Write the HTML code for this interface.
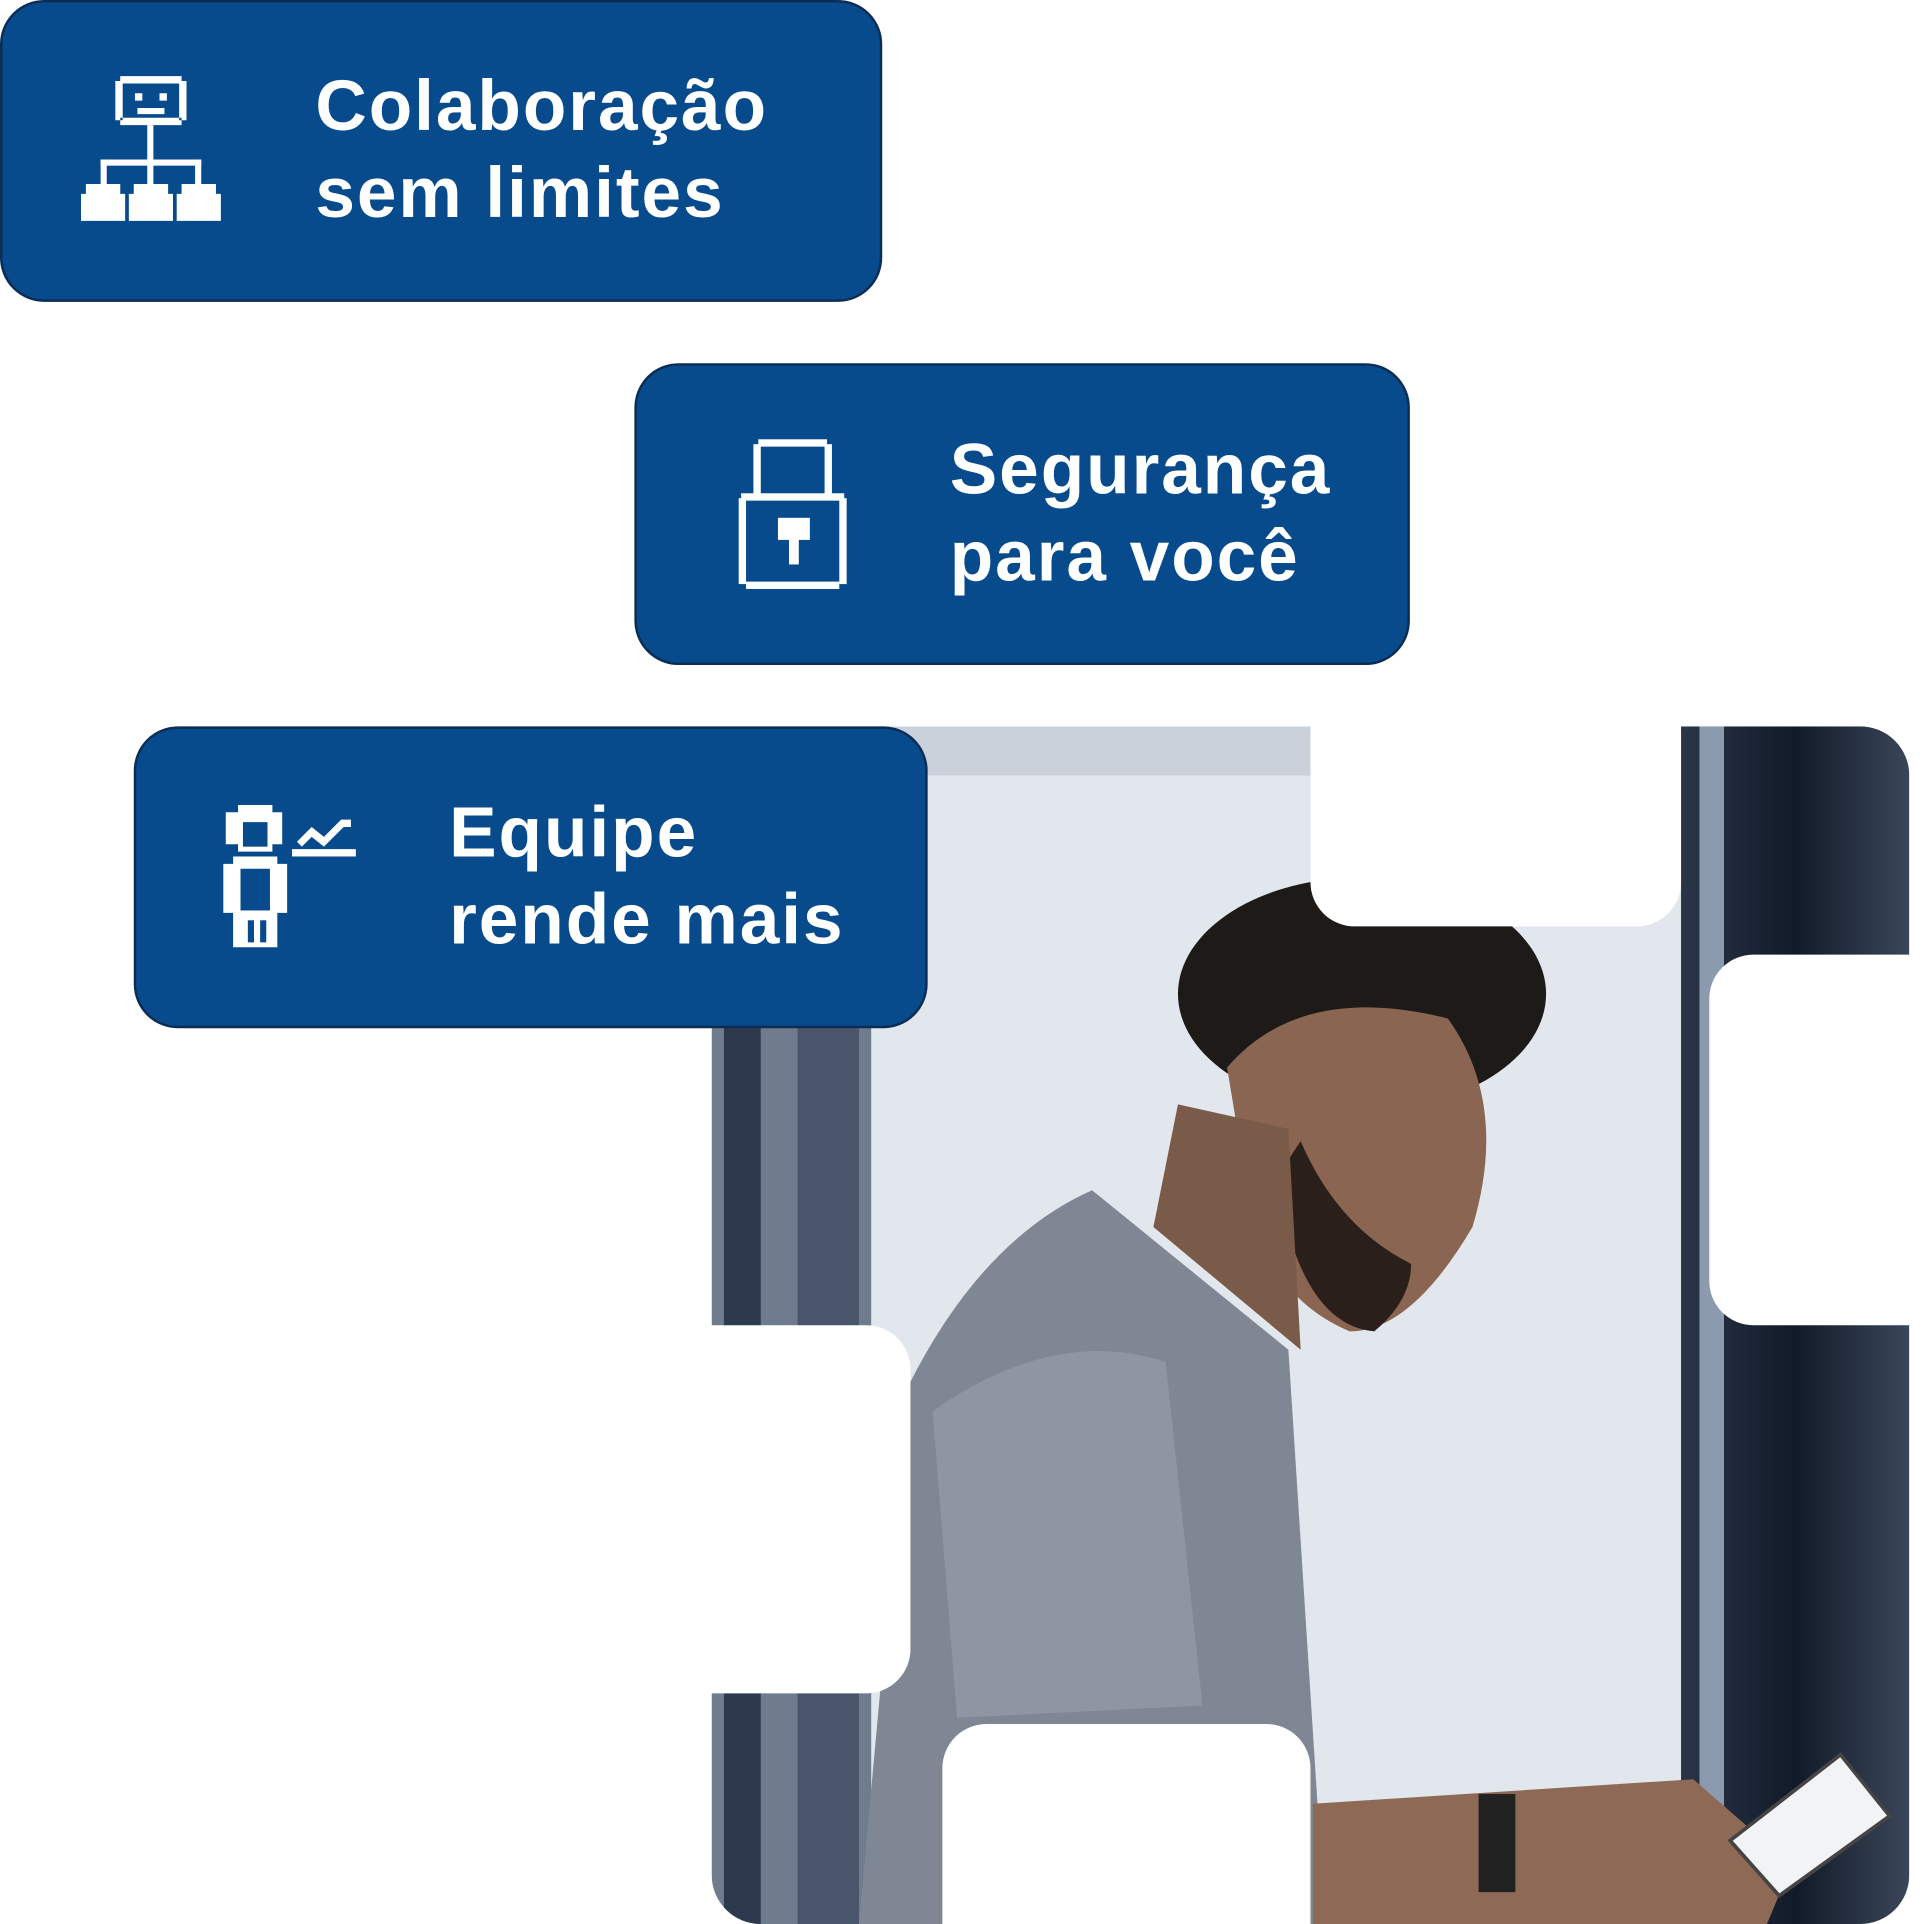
<!DOCTYPE html>
<html><head><meta charset="utf-8"><style>
html,body{margin:0;padding:0;background:#fff;}
body{width:1924px;height:1924px;overflow:hidden;position:relative;}
#s{position:absolute;left:0;top:0;width:1568px;height:1568px;transform:scale(1.22704);transform-origin:0 0;}
.card{position:absolute;background:#074b8c;border:2px solid #0b2d55;border-radius:36px;box-sizing:border-box;}
.t{position:absolute;color:#fff;font-family:"Liberation Sans",sans-serif;font-weight:bold;font-size:58px;line-height:71px;letter-spacing:1.6px;}
</style></head><body><div id="s">
<svg width="1568" height="1568" style="position:absolute;left:0;top:0">
<defs>
<clipPath id="c"><rect x="580" y="592" width="976" height="976" rx="40"/></clipPath>
<linearGradient id="rk" x1="0" x2="1"><stop offset="0" stop-color="#2a3548"/><stop offset="0.5" stop-color="#111a28"/><stop offset="1" stop-color="#3a4659"/></linearGradient>
</defs>
<g clip-path="url(#c)">
<rect x="580" y="592" width="976" height="976" fill="#e2e7ed"/>
<rect x="580" y="592" width="976" height="40" fill="#c9d1db"/>
<rect x="580" y="820" width="130" height="748" fill="#6f7c8e"/>
<rect x="590" y="820" width="30" height="748" fill="#2d3a4e"/>
<rect x="650" y="820" width="50" height="748" fill="#48556a"/>
<rect x="1370" y="592" width="186" height="976" fill="url(#rk)"/>
<rect x="1385" y="592" width="20" height="976" fill="#8c9ab0"/>
<!-- man -->
<ellipse cx="1110" cy="810" rx="150" ry="95" fill="#1e1a18"/>
<path d="M1000 870 Q1060 800 1180 830 Q1230 900 1200 1000 Q1150 1085 1100 1085 Q1040 1060 1020 990 Z" fill="#8a6552"/>
<path d="M1040 960 Q1060 1080 1120 1085 Q1150 1060 1150 1030 Q1090 1000 1060 930 Z" fill="#2a1f1a"/>
<path d="M960 900 L1050 920 L1060 1100 L940 1000 Z" fill="#7a5a48"/>
<path d="M740 1130 Q800 1010 890 970 L1050 1100 L1080 1568 L700 1568 Z" fill="#7e8793"/>
<path d="M760 1150 Q860 1080 950 1110 L980 1390 L780 1400 Z" fill="#8d96a2"/>
<path d="M1070 1470 L1380 1450 L1460 1520 L1440 1568 L1070 1568 Z" fill="#8e6a56"/>
<rect x="1205" y="1462" width="30" height="80" fill="#222"/>
<path d="M1410 1500 L1500 1430 L1540 1480 L1450 1545 Z" fill="#f1f3f5" stroke="#444" stroke-width="3"/>
</g>
<g fill="#fff">
<rect x="1068" y="560" width="302" height="195" rx="36"/>
<rect x="1393" y="778" width="200" height="302" rx="36"/>
<rect x="540" y="1080" width="202" height="300" rx="36"/>
<rect x="768" y="1405" width="300" height="200" rx="36"/>
</g>
</svg>

<div class="card" style="left:0;top:0;width:719px;height:246px"></div>
<div class="t" style="left:257px;top:51px">Colaboração<br>sem limites</div>
<svg style="position:absolute;left:60px;top:58px" width="126" height="126" fill="#fff">
<path d="M38 4h50v6h-50zM38 44h50v-6h-50zM34 8h6v32h-6zM86 8h6v32h-6zM50 18h6v6h-6zM70 18h6v6h-6zM52 30h22v5h-22z"/>
<rect x="60" y="44" width="5" height="30"/><rect x="22" y="72" width="82" height="5"/>
<rect x="22" y="72" width="5" height="20"/><rect x="99" y="72" width="5" height="20"/><rect x="60" y="72" width="5" height="20"/>
<path d="M10 92h28v8h4v22h-36v-22h4z"/><path d="M49 92h28v8h4v22h-36v-22h4z"/><path d="M88 92h28v8h4v22h-36v-22h4z"/>
</svg>

<div class="card" style="left:517px;top:296px;width:632px;height:246px"></div>
<div class="t" style="left:774px;top:347px">Segurança<br>para você</div>
<svg style="position:absolute;left:600px;top:356px" width="92" height="126" fill="#fff">
<rect x="18" y="2" width="56" height="6"/><rect x="14" y="6" width="6" height="44"/><rect x="72" y="6" width="6" height="44"/>
<rect x="4" y="46" width="84" height="6"/><rect x="2" y="50" width="6" height="70"/><rect x="84" y="50" width="6" height="70"/>
<rect x="8" y="118" width="76" height="6"/>
<rect x="34" y="66" width="26" height="18"/><rect x="43" y="80" width="8" height="24"/>
</svg>

<div class="card" style="left:109px;top:592px;width:647px;height:246px"></div>
<div class="t" style="left:366px;top:643px">Equipe<br>rende mais</div>
<svg style="position:absolute;left:180px;top:652px" width="115" height="124" fill="#fff">
<path d="M14 4h28v6h8v26h-8v6h-28v-6h-10v-26h10z"/>
<rect x="18" y="18" width="20" height="20" fill="#074b8c"/>
<path d="M10 46h36v6h8v40h-8v28h-36v-28h-8v-40h8z"/>
<rect x="16" y="56" width="24" height="34" fill="#074b8c"/>
<rect x="22" y="98" width="5" height="18" fill="#074b8c"/><rect x="32" y="98" width="5" height="18" fill="#074b8c"/>
<rect x="58" y="40" width="52" height="6"/>
<path d="M62 34l12-12 10 8 14-14h8v6h-6l-16 16-10-8-8 8z"/>
</svg>
</div></body></html>
